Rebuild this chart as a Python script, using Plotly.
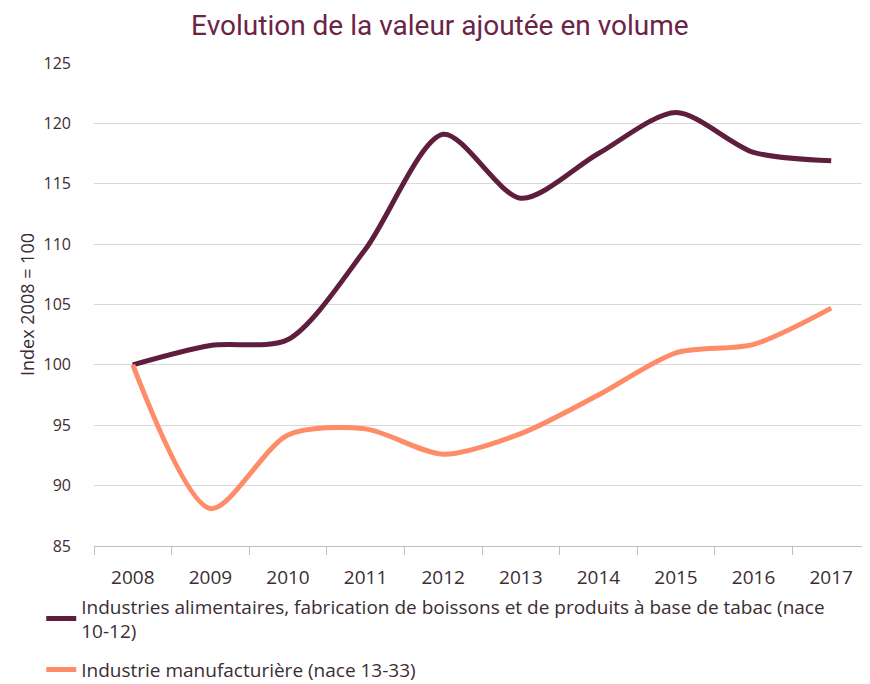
import plotly.graph_objects as go

years = ["2008", "2009", "2010", "2011", "2012", "2013", "2014", "2015", "2016", "2017"]
alim = [100.0, 101.6, 102.1, 109.6, 119.1, 113.8, 117.5, 120.9, 117.6, 116.9]
manuf = [100.0, 88.1, 94.2, 94.7, 92.6, 94.3, 97.5, 101.0, 101.7, 104.7]

name_alim = "Industries alimentaires, fabrication de boissons et de produits à base de tabac (nace<br>10-12)"
name_manuf = "Industrie manufacturière (nace 13-33)"

FONT = "Open Sans"
TXT = "#3b2d33"

fig = go.Figure()
fig.add_trace(go.Scatter(x=years, y=alim, mode="lines", name=name_alim, legendgroup="a",
                         line=dict(color="#5f1e3e", width=5, shape="spline", smoothing=0.8)))
fig.add_trace(go.Scatter(x=years, y=manuf, mode="lines", name=name_manuf, legendgroup="b",
                         line=dict(color="#ff8c69", width=5, shape="spline", smoothing=0.8)))

# page has an 8px body margin, so the figure is sized/offset to compensate
fig.update_layout(
    width=862, height=676,
    margin=dict(l=86, r=0, t=55, b=138),
    paper_bgcolor="white", plot_bgcolor="white",
    font=dict(family=FONT, color=TXT, size=17),
    title=dict(text="Evolution de la valeur ajoutée en volume", x=0.501, xref="container",
               xanchor="center", y=0.975, yref="container", yanchor="middle",
               font=dict(size=28, color="#6b2347", family="Roboto")),
    legend=dict(x=-0.068, xanchor="left", xref="paper", y=0.143, yref="container",
                yanchor="top", orientation="v",
                traceorder="grouped", tracegroupgap=11,
                font=dict(size=19, color=TXT), bgcolor="rgba(0,0,0,0)"),
    showlegend=True,
)
fig.update_xaxes(type="category", range=[-0.5, 9.5], tickson="boundaries", automargin=False,
                 ticks="outside", ticklen=8, tickcolor="#bfbfbf", showline=True,
                 linecolor="#bfbfbf", linewidth=1, showgrid=False, ticklabelstandoff=14,
                 tickfont=dict(size=19, color=TXT))
fig.update_yaxes(range=[85, 125], dtick=5, showgrid=True, gridcolor="#d9d9d9", gridwidth=1,
                 automargin=False,
                 zeroline=False, showline=False, ticks="", ticklabelstandoff=22,
                 tickfont=dict(size=16, color=TXT),
                 title=dict(text="Index 2008 = 100", font=dict(size=18, color=TXT), standoff=4))
fig.write_html("out.html")
